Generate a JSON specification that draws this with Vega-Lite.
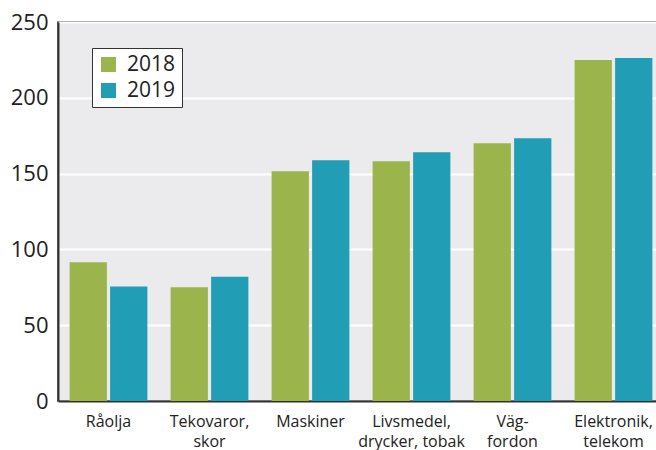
{
  "$schema": "https://vega.github.io/schema/vega-lite/v6.json",
  "width": 606,
  "height": 379,
  "autosize": {"type": "none"},
  "padding": {"left": 58, "top": 22, "right": 0, "bottom": 49},
  "background": "white",
  "config": {
    "font": "Open Sans",
    "view": {"fill": "#ebebed", "stroke": "#333333", "strokeWidth": 1.5}
  },
  "data": {
    "values": [
      {"kategori": "Råolja", "ar": "2018", "varde": 91.5},
      {"kategori": "Råolja", "ar": "2019", "varde": 75.6},
      {"kategori": "Tekovaror,|skor", "ar": "2018", "varde": 75},
      {"kategori": "Tekovaror,|skor", "ar": "2019", "varde": 82},
      {"kategori": "Maskiner", "ar": "2018", "varde": 151.6},
      {"kategori": "Maskiner", "ar": "2019", "varde": 158.8},
      {"kategori": "Livsmedel,|drycker, tobak", "ar": "2018", "varde": 158.2},
      {"kategori": "Livsmedel,|drycker, tobak", "ar": "2019", "varde": 164.1},
      {"kategori": "Väg-|fordon", "ar": "2018", "varde": 170},
      {"kategori": "Väg-|fordon", "ar": "2019", "varde": 173.4},
      {"kategori": "Elektronik,|telekom", "ar": "2018", "varde": 225},
      {"kategori": "Elektronik,|telekom", "ar": "2019", "varde": 226.2}
    ]
  },
  "mark": {"type": "bar"},
  "encoding": {
    "x": {
      "field": "kategori",
      "type": "nominal",
      "sort": null,
      "scale": {"paddingInner": 0.23, "paddingOuter": 0.115},
      "axis": {
        "title": null,
        "labelAngle": 0,
        "ticks": false,
        "domain": true,
        "domainColor": "#333333",
        "domainWidth": 2,
        "labelExpr": "split(datum.value, '|')",
        "labelFontSize": 16,
        "labelColor": "#222222",
        "labelPadding": 12,
        "labelLineHeight": 20
      }
    },
    "xOffset": {"field": "ar", "type": "nominal", "scale": {"paddingInner": 0.08}},
    "y": {
      "field": "varde",
      "type": "quantitative",
      "scale": {"domain": [0, 250], "nice": false},
      "axis": {
        "title": null,
        "values": [0, 50, 100, 150, 200, 250],
        "ticks": false,
        "grid": true,
        "gridColor": "white",
        "gridWidth": 2,
        "domainColor": "#333333",
        "domainWidth": 2,
        "labelFontSize": 22,
        "labelColor": "#222222",
        "labelPadding": 10
      }
    },
    "color": {
      "field": "ar",
      "type": "nominal",
      "scale": {"domain": ["2018", "2019"], "range": ["#9bb44c", "#219db5"]},
      "legend": {
        "title": null,
        "orient": "none",
        "legendX": 34,
        "legendY": 26,
        "symbolType": "square",
        "symbolSize": 225,
        "symbolStrokeWidth": 0,
        "labelFontSize": 21,
        "labelColor": "#222222",
        "labelOffset": 8,
        "rowPadding": 4,
        "padding": 6,
        "fillColor": "white",
        "strokeColor": "#333333"
      }
    }
  }
}
